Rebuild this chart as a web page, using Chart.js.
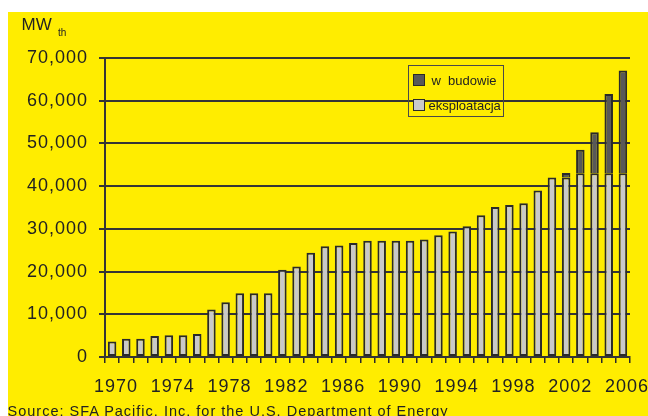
<!DOCTYPE html>
<html>
<head>
<meta charset="utf-8">
<script src="https://cdn.jsdelivr.net/npm/chart.js@4/dist/chart.umd.min.js"></script>
<style>
  html, body { margin: 0; padding: 0; background: #ffffff; }
  body { width: 648px; height: 416px; position: relative; overflow: hidden; font-family: 'Liberation Sans', Arial, sans-serif; color: #222; }
  #panel { position: absolute; left: 8px; top: 12px; width: 640px; height: 404px; background: #ffed00; }
  #chart { position: absolute; left: 0; top: 0; }
  .unit { position: absolute; left: 21.5px; top: 16.4px; font-size: 17px; line-height: 17px; white-space: nowrap; }
  .unit-sub { position: absolute; left: 58px; top: 27.5px; font-size: 10px; line-height: 10px; }
  #legend { position: absolute; left: 408px; top: 65px; width: 96px; height: 52px; border: 1.5px solid #4a4a4a; box-sizing: border-box; }
  .lg-item { position: absolute; left: 0; height: 14px; font-size: 13px; line-height: 14px; white-space: pre; }
  .lg-box { position: absolute; width: 12px; height: 12px; border: 1.5px solid #2a2a2a; box-sizing: border-box; }
  .lg-text { position: absolute; top: 0; }
  .source { position: absolute; left: 7.5px; top: 403.8px; font-size: 14.5px; line-height: 14.5px; letter-spacing: 1px; white-space: nowrap; }
</style>
</head>
<body>
<div id="panel"></div>
<canvas id="chart" width="648" height="416"></canvas>
<div class="unit">MW</div><div class="unit-sub">th</div>
<div id="legend"></div>
<div class="source">Source: SFA Pacific, Inc. for the U.S. Department of Energy</div>
<script>
// Installed geothermal heat capacity (MWth) by year
const years = ['1970','1971','1972','1973','1974','1975','1976','1977','1978','1979',
               '1980','1981','1982','1983','1984','1985','1986','1987','1988','1989',
               '1990','1991','1992','1993','1994','1995','1996','1997','1998','1999',
               '2000','2001','2002','2003','2004','2005','2006'];

// Capacity in operation
const operating = [3600, 4300, 4300, 4900, 5100, 5100, 5400, 11100, 12800, 14900,
                   14900, 14900, 20400, 21200, 24400, 25900, 26100, 26700, 27200, 27200,
                   27200, 27200, 27500, 28500, 29400, 30600, 33200, 35100, 35600, 36000,
                   39000, 42000, 42000, 43000, 43000, 43000, 43000];

// Capacity under construction (stacked on top)
const underConstruction = [null, null, null, null, null, null, null, null, null, null,
                           null, null, null, null, null, null, null, null, null, null,
                           null, null, null, null, null, null, null, null, null, null,
                           null, null, 1100, 5500, 9600, 18600, 24100];

const yTicks = [0, 10000, 20000, 30000, 40000, 50000, 60000, 70000];
const seriesNames = { building: 'w  budowie', operating: 'eksploatacja' };

const INK = '#2a2a2a';
const GRID = '#353535';

Chart.defaults.font.family = "'Liberation Sans', Arial, sans-serif";
Chart.defaults.color = '#222';

const spacing = {
  id: 'spacing',
  beforeDraw(chart) { chart.ctx.letterSpacing = '1px'; },
  afterDraw(chart) { chart.ctx.letterSpacing = '0px'; }
};

const chart = new Chart(document.getElementById('chart'), {
  type: 'bar',
  data: {
    labels: years,
    datasets: [
      {
        label: seriesNames.operating,
        data: operating,
        backgroundColor: '#c9c9c9',
        borderColor: INK,
        borderWidth: 2,
        borderSkipped: false,
        barPercentage: 0.6,
        categoryPercentage: 1
      },
      {
        label: seriesNames.building,
        data: underConstruction,
        backgroundColor: '#585858',
        borderColor: INK,
        borderWidth: 2,
        borderSkipped: 'start',
        barPercentage: 0.6,
        categoryPercentage: 1
      }
    ]
  },
  options: {
    responsive: false,
    animation: false,
    devicePixelRatio: 1,
    layout: { padding: { top: 58, right: 18, bottom: 0, left: 0 } },
    plugins: { legend: { display: false }, tooltip: { enabled: false } },
    scales: {
      x: {
        stacked: true,
        afterFit(scale) {
          scale.height = 59;
          scale.paddingLeft = 0;
          scale.paddingRight = 0;
        },
        grid: { offset: true, drawOnChartArea: false, drawTicks: true, tickLength: 6, color: INK, lineWidth: 1.5 },
        border: { display: true, color: GRID, width: 2 },
        ticks: {
          autoSkip: false,
          maxRotation: 0,
          minRotation: 0,
          padding: 13,
          labelOffset: 4,
          font: { size: 18 },
          color: '#222',
          callback(value, index) { return index % 4 === 0 ? years[index] : ''; }
        }
      },
      y: {
        stacked: true,
        min: yTicks[0],
        max: yTicks[yTicks.length - 1],
        afterFit(scale) {
          scale.width = 105;
          scale.paddingTop = 0;
          scale.paddingBottom = 0;
        },
        afterBuildTicks(scale) { scale.ticks = yTicks.map(v => ({ value: v })); },
        grid: { drawTicks: true, tickLength: 6, color: GRID, lineWidth: 2 },
        border: { display: true, color: GRID, width: 2 },
        ticks: {
          padding: 11,
          font: { size: 18 },
          color: '#222',
          callback(value) { return Number(value).toLocaleString('en-US'); }
        }
      }
    }
  },
  plugins: [spacing]
});

// Legend, listed top to bottom in stacking order (top series first)
const legend = document.getElementById('legend');
const legendRows = [
  { ds: chart.data.datasets[1], top: 7.5, textLeft: 22.5 },
  { ds: chart.data.datasets[0], top: 32.5, textLeft: 19.5 }
];
legendRows.forEach(row => {
  const item = document.createElement('div');
  item.className = 'lg-item';
  item.style.top = row.top + 'px';
  const box = document.createElement('div');
  box.className = 'lg-box';
  box.style.left = '4px';
  box.style.top = '0px';
  box.style.background = row.ds.backgroundColor;
  const text = document.createElement('div');
  text.className = 'lg-text';
  text.style.left = row.textLeft + 'px';
  text.textContent = row.ds.label;
  item.appendChild(box);
  item.appendChild(text);
  legend.appendChild(item);
});
</script>
</body>
</html>
